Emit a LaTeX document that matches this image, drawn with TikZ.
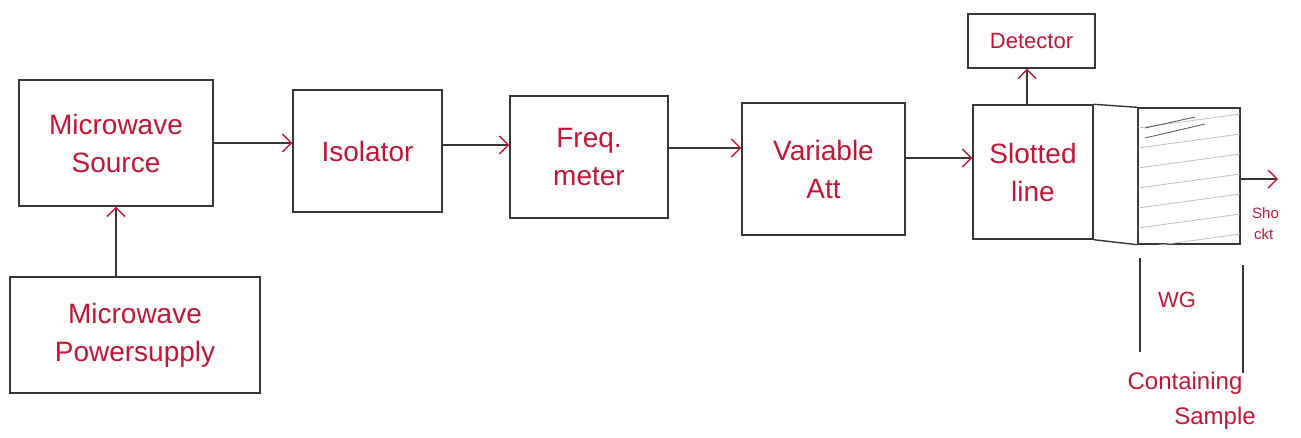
\documentclass[tikz,border=0pt]{standalone}
\usepackage{fontspec}
\setmainfont{Liberation Sans}
\usetikzlibrary{arrows.meta,calc}
\definecolor{ink}{RGB}{196,22,52}
\definecolor{pencil}{RGB}{55,55,55}
\begin{document}
\begin{tikzpicture}[x=1pt,y=-1pt,
  box/.style={draw=pencil,line width=1.4pt,rectangle,inner sep=0pt,text=ink,align=center,
    font=\fontsize{28}{38}\selectfont},
  lbl/.style={text=ink,inner sep=0pt,font=\fontsize{28}{38}\selectfont},
  wire/.style={draw=pencil,line width=1.4pt},
  arr/.style={wire,-{Straight Barb[length=9pt,width=18pt,line width=1.4pt,color=ink]}},
  hatch/.style={draw=gray!50,line width=0.8pt}]
\useasboundingbox (0,0) rectangle (1301,437);
% boxes
\node[box,minimum width=194pt,minimum height=126pt] (src) at (116,143) {Microwave\\Source};
\node[box,minimum width=250pt,minimum height=116pt] (psu) at (135,335) {Microwave\\Powersupply};
\node[box,minimum width=149pt,minimum height=122pt] (iso) at (367.5,151) {Isolator};
\node[box,minimum width=158pt,minimum height=122pt] (frq) at (589,157) {Freq.\\meter};
\node[box,minimum width=163pt,minimum height=132pt] (att) at (823.5,169) {Variable\\Att};
\node[box,minimum width=120pt,minimum height=134pt] (slt) at (1033,172) {Slotted\\line};
\node[box,minimum width=127pt,minimum height=54pt,font=\fontsize{22}{28}\selectfont] (det) at (1031.5,41) {Detector};
\node[box,minimum width=102pt,minimum height=136pt] (smp) at (1189,176) {};
% hatching inside sample
\begin{scope}
  \clip (smp.north west) rectangle (smp.south east);
  \foreach \yy in {128,148,168,188,208,228,248,268} {
    \draw[hatch] (1138,\yy) -- (1240,\yy-14);
  }
  \draw[draw=pencil!80,line width=0.9pt] (1145,128) -- (1195,117);
  \draw[draw=pencil!80,line width=0.9pt] (1145,138) -- (1205,124);
\end{scope}
% waveguide joining lines
\draw[wire] (slt.north east) -- (smp.north west);
\draw[wire] (slt.south east) -- (smp.south west);
% connectors
\draw[arr] (psu.north -| src.south) -- (src.south);
\draw[arr] (src.east) -- (src.east -| iso.west);
\draw[arr] ([yshift=6pt]iso.east) -- ([yshift=6pt]iso.east -| frq.west);
\draw[arr] ([yshift=9pt]frq.east) -- ([yshift=9pt]frq.east -| att.west);
\draw[arr] ([yshift=11pt]att.east) -- ([yshift=11pt]att.east -| slt.west);
\draw[arr] ([xshift=-6pt]slt.north) -- ([xshift=-6pt]slt.north |- det.south);
\coordinate (out) at (1278,179);
\draw[arr] (smp.east |- out) -- (out);
% WG marker lines
\coordinate (wga) at (1140,258); \coordinate (wgb) at (1140,352);
\coordinate (wgc) at (1243,265); \coordinate (wgd) at (1243,373);
\draw[wire] (wga) -- (wgb);
\draw[wire] (wgc) -- (wgd);
% labels
\node[lbl,font=\fontsize{22}{28}\selectfont] (wg) at (1177,300) {WG};
\node[lbl,font=\fontsize{24}{30}\selectfont] (cont) at (1185,383) {Containing};
\node[lbl,font=\fontsize{24}{30}\selectfont] (samp) at (1215,418) {Sample};
\node[lbl,font=\fontsize{15}{18}\selectfont,anchor=west] (sho) at (1252,213) {Sho};
\node[lbl,font=\fontsize{15}{18}\selectfont,anchor=west] (ckt) at (1254,234) {ckt};
\end{tikzpicture}
\end{document}
